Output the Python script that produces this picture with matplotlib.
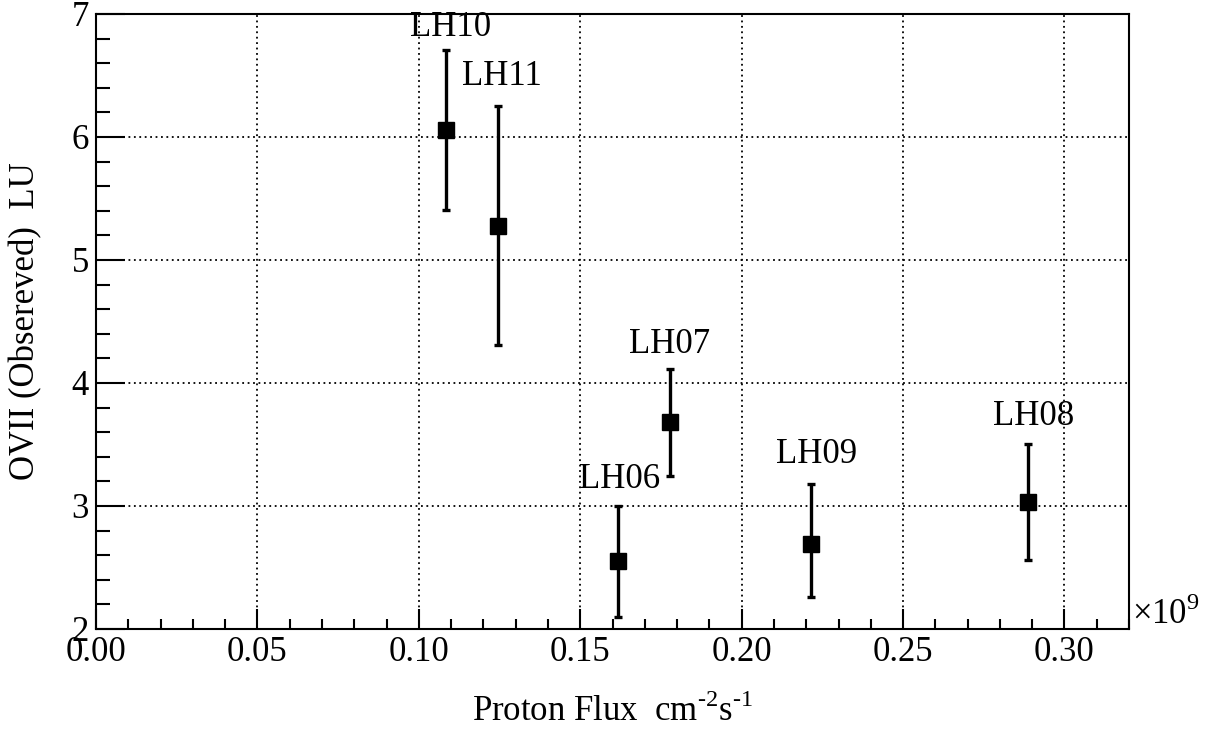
import matplotlib
matplotlib.use("Agg")
import matplotlib.pyplot as plt
from matplotlib.ticker import MultipleLocator, FormatStrFormatter

plt.rcParams['font.family'] = ['Liberation Serif', 'DejaVu Serif']
plt.rcParams['mathtext.fontset'] = 'custom'
plt.rcParams['mathtext.rm'] = 'Liberation Serif'

# Observations (proton flux in units of 1e9 cm^-2 s^-1)
names = ["LH10", "LH11", "LH06", "LH07", "LH09", "LH08"]
flux = [0.1084, 0.1244, 0.1618, 0.1778, 0.2214, 0.2886]
ovii = [6.06, 5.28, 2.55, 3.68, 2.69, 3.03]
err_up = [0.65, 0.97, 0.45, 0.43, 0.49, 0.47]
err_down = [0.65, 0.97, 0.45, 0.44, 0.43, 0.47]

# label offsets in pixels (dx, dy) from top of error bar
label_offsets = [(5, 6), (4, 13), (1, 10), (0, 8), (6, 13), (6, 11)]

FS = 25

fig = plt.figure(figsize=(12.06, 7.29), dpi=100)
ax = fig.add_axes([0.0796, 0.1372, 0.9362 - 0.0796, 0.9808 - 0.1372])

ax.errorbar(flux, ovii, yerr=[err_down, err_up], fmt='s', color='black',
            markersize=11.5, elinewidth=2.4, capsize=2.8, capthick=2.4,
            ecolor='black')

for i, name in enumerate(names):
    ax.annotate(name, xy=(flux[i], ovii[i] + err_up[i]),
                xytext=(label_offsets[i][0] * 0.72, label_offsets[i][1] * 0.72),
                textcoords='offset points', ha='center', va='bottom',
                fontsize=FS)

ax.set_xlim(0, 0.32)
ax.set_ylim(2, 7)
ax.xaxis.set_major_locator(MultipleLocator(0.05))
ax.xaxis.set_minor_locator(MultipleLocator(0.01))
ax.yaxis.set_major_locator(MultipleLocator(1))
ax.yaxis.set_minor_locator(MultipleLocator(0.2))
ax.xaxis.set_major_formatter(FormatStrFormatter('%.2f'))

ax.tick_params(axis='both', which='both', direction='in', width=1.5,
               labelsize=FS, top=False, right=False)
ax.tick_params(axis='x', which='major', length=14.5, pad=5)
ax.tick_params(axis='x', which='minor', length=7)
ax.tick_params(axis='y', which='major', length=21, pad=5)
ax.tick_params(axis='y', which='minor', length=10)

for s in ax.spines.values():
    s.set_linewidth(1.5)

ax.grid(True, which='major', color='black', linestyle=(0, (1, 2)), linewidth=1.3)
ax.set_axisbelow(True)

ax.set_xlabel('Proton Flux  cm$^{\u20102}$s$^{\u20101}$', fontsize=FS)
ax.xaxis.set_label_coords(0.5, -0.106)
ax.set_ylabel('OVII (Obsereved)  LU', fontsize=FS)
ax.yaxis.set_label_coords(-0.052, 0.5)

ax.text(1.003, -0.005, r'$\times$10$^{9}$', transform=ax.transAxes,
        fontsize=FS, ha='left', va='bottom')

fig.savefig("out.png", dpi=100)
